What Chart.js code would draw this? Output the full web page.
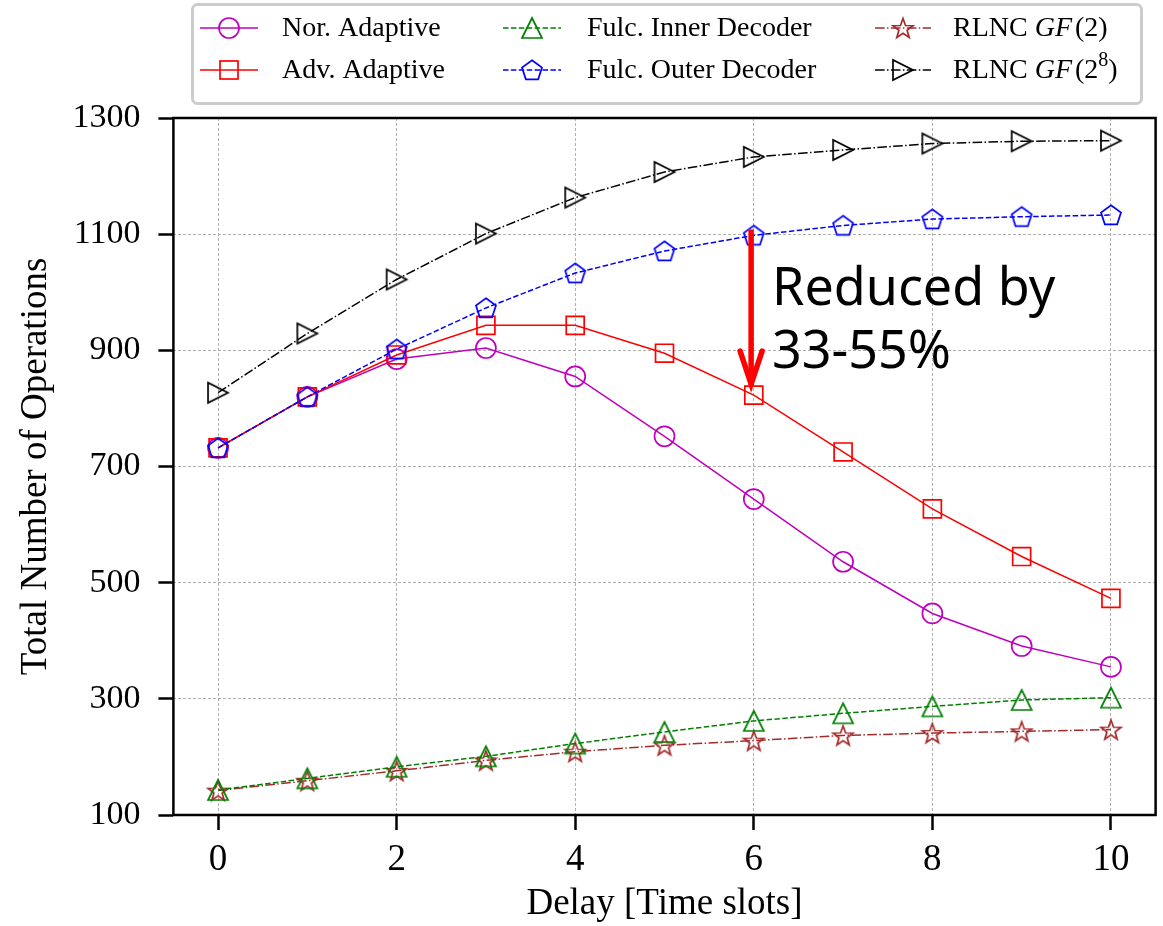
<!DOCTYPE html>
<html>
<head>
<meta charset="utf-8">
<script src="https://cdn.jsdelivr.net/npm/chart.js@4/dist/chart.umd.min.js"></script>
<style>
  body { margin: 0; background: #fff; }
  #wrap { width: 1163px; height: 926px; }
</style>
</head>
<body>
<div id="wrap"><canvas id="opsChart" width="1163" height="926"></canvas></div>
<script>
// delay in time slots
const delays = [0, 1, 2, 3, 4, 5, 6, 7, 8, 9, 10];

// total number of operations per scheme
const norAdaptive = [732, 820, 885, 904, 855, 752, 644, 536, 447, 391, 355];
const advAdaptive = [732, 820, 892, 943, 943, 895, 823, 725, 627, 545, 473];
const fulcInner = [143, 163, 183, 201, 223, 243, 262, 275, 287, 298, 302];
const fulcOuter = [732, 820, 902, 973, 1033, 1071, 1098, 1115, 1126, 1130, 1133];
const rlncGF2 = [142, 159, 176, 194, 209, 220, 228, 237, 241, 244, 247];
const rlncGF256 = [827, 929, 1022, 1101, 1163, 1207, 1233, 1245, 1256, 1260, 1261];

const xTicks = [0, 2, 4, 6, 8, 10];
const yTicks = [100, 300, 500, 700, 900, 1100, 1300];

// arrow for the reduction note: x position, from / to values
const arrowX = 5.97;
const arrowFrom = 1108;
const arrowTo = 835;

const SERIF = '"Liberation Serif", "Times New Roman", serif';

// hollow marker images (matplotlib-like shapes)
function markerCanvas(color, drawPath) {
  const c = document.createElement('canvas');
  c.width = 26; c.height = 26;
  const g = c.getContext('2d');
  g.strokeStyle = color;
  g.lineWidth = 1.7;
  g.lineJoin = 'miter';
  g.beginPath();
  drawPath(g, 13, 13);
  g.closePath();
  g.stroke();
  return c;
}

function polyPath(pts) {
  return (g, cx, cy) => {
    pts.forEach((p, i) => {
      if (i === 0) g.moveTo(cx + p[0], cy + p[1]);
      else g.lineTo(cx + p[0], cy + p[1]);
    });
  };
}

const triUp = markerCanvas('#008000', polyPath([[0, -10], [10, 10], [-10, 10]]));
const triRight = markerCanvas('#000000', polyPath([[10, 0], [-10, 10], [-10, -10]]));

const pentPts = [];
for (let k = 0; k < 5; k++) {
  const a = -Math.PI / 2 + k * 2 * Math.PI / 5;
  pentPts.push([10.5 * Math.cos(a), 10.5 * Math.sin(a) + 0.8]);
}
const pentagon = markerCanvas('#0000ff', polyPath(pentPts));

const starPts = [];
for (let k = 0; k < 10; k++) {
  const a = -Math.PI / 2 + k * Math.PI / 5;
  const r = k % 2 === 0 ? 10.5 : 4.3;
  starPts.push([r * Math.cos(a), r * Math.sin(a) + 1]);
}
const star = markerCanvas('#a52a2a', polyPath(starPts));

function series(vals) {
  return delays.map((d, i) => ({ x: d, y: vals[i] }));
}

const entries = [
  { label: 'Nor. Adaptive', data: norAdaptive, color: '#bf00bf', dash: [], marker: 'circle', order: 3 },
  { label: 'Adv. Adaptive', data: advAdaptive, color: '#ff0000', dash: [], marker: 'rect', order: 2 },
  { label: 'Fulc. Inner Decoder', data: fulcInner, color: '#008000', dash: [5.5, 2.4], marker: triUp, order: 4 },
  { label: 'Fulc. Outer Decoder', data: fulcOuter, color: '#0000ff', dash: [5.5, 2.4], marker: pentagon, order: 1 },
  { label: 'RLNC GF(2)', data: rlncGF2, color: '#a52a2a', dash: [9.6, 2.4, 1.5, 2.4], marker: star, order: 5 },
  { label: 'RLNC GF(2^8)', data: rlncGF256, color: '#000000', dash: [9.6, 2.4, 1.5, 2.4], marker: triRight, order: 6 }
];

const datasets = entries.map(e => ({
  label: e.label,
  data: series(e.data),
  borderColor: e.color,
  borderWidth: 1.5,
  borderDash: e.dash,
  tension: 0,
  fill: false,
  order: e.order,
  pointStyle: e.marker,
  pointRadius: e.marker === 'rect' ? 12.7 : 10,
  pointHoverRadius: e.marker === 'rect' ? 12.7 : 10,
  pointBorderColor: e.color,
  pointBackgroundColor: 'rgba(0,0,0,0)',
  pointBorderWidth: 1.7
}));

// legend drawn in the top margin: 3 columns x 2 rows
const legendPlugin = {
  id: 'boxLegend',
  afterDraw(chart) {
    const ctx = chart.ctx;
    ctx.save();
    ctx.strokeStyle = '#cccccc';
    ctx.lineWidth = 3;
    ctx.fillStyle = '#ffffff';
    ctx.beginPath();
    ctx.roundRect(192.5, 4.5, 949, 99, 5);
    ctx.fill();
    ctx.stroke();

    const cols = [[200, 258, 282], [503, 561, 587], [875, 931, 953]];
    const rows = [28, 70];
    const layout = [[0, 0, 0], [1, 0, 1], [2, 1, 0], [3, 1, 1], [4, 2, 0], [5, 2, 1]];

    layout.forEach(([idx, c, r]) => {
      const e = entries[idx];
      const [x1, x2, tx] = cols[c];
      const y = rows[r];
      const mx = (x1 + x2) / 2;
      ctx.strokeStyle = e.color;
      ctx.lineWidth = 1.5;
      ctx.setLineDash(e.dash);
      ctx.beginPath();
      ctx.moveTo(x1, y);
      ctx.lineTo(x2, y);
      ctx.stroke();
      ctx.setLineDash([]);
      ctx.lineWidth = 1.7;
      if (e.marker === 'circle') {
        ctx.beginPath();
        ctx.arc(mx, y, 10, 0, Math.PI * 2);
        ctx.stroke();
      } else if (e.marker === 'rect') {
        ctx.strokeRect(mx - 9, y - 9, 18, 18);
      } else {
        ctx.drawImage(e.marker, mx - 13, y - 13);
      }

      ctx.fillStyle = '#000';
      ctx.textBaseline = 'middle';
      ctx.textAlign = 'left';
      const normal = '28px ' + SERIF;
      const italic = 'italic 28px ' + SERIF;
      if (idx < 4) {
        ctx.font = normal;
        ctx.fillText(e.label, tx, y + 1);
      } else {
        let x = tx;
        ctx.font = normal;
        ctx.fillText('RLNC ', x, y + 1);
        x += ctx.measureText('RLNC ').width;
        ctx.font = italic;
        ctx.fillText('GF', x, y + 1);
        x += ctx.measureText('GF').width + 3;
        ctx.font = normal;
        if (idx === 4) {
          ctx.fillText('(2)', x, y + 1);
        } else {
          ctx.fillText('(2', x, y + 1);
          x += ctx.measureText('(2').width;
          ctx.font = '20px ' + SERIF;
          ctx.fillText('8', x, y - 9);
          x += ctx.measureText('8').width;
          ctx.font = normal;
          ctx.fillText(')', x, y + 1);
        }
      }
    });
    ctx.restore();
  }
};

// axes frame plus the reduction arrow and note
const annotatePlugin = {
  id: 'frameAndNote',
  afterDatasetsDraw(chart) {
    const { ctx, chartArea: a, scales } = chart;
    ctx.save();
    ctx.strokeStyle = '#000';
    ctx.lineWidth = 2.5;
    ctx.strokeRect(a.left, a.top, a.right - a.left, a.bottom - a.top);

    const x = scales.x.getPixelForValue(arrowX);
    const y1 = scales.y.getPixelForValue(arrowFrom);
    const y2 = scales.y.getPixelForValue(arrowTo);
    ctx.strokeStyle = '#ff0000';
    ctx.lineWidth = 5.5;
    ctx.lineCap = 'butt';
    ctx.beginPath();
    ctx.moveTo(x, y1);
    ctx.lineTo(x, y2 - 3);
    ctx.stroke();
    ctx.lineJoin = 'miter';
    ctx.lineCap = 'round';
    ctx.beginPath();
    ctx.moveTo(x - 11, y2 - 37);
    ctx.lineTo(x, y2 - 4);
    ctx.lineTo(x + 11, y2 - 37);
    ctx.stroke();

    ctx.fillStyle = '#000';
    ctx.font = '52px "Noto Sans", sans-serif';
    ctx.textAlign = 'left';
    ctx.textBaseline = 'alphabetic';
    ctx.fillText('Reduced by', x + 21, scales.y.getPixelForValue(978));
    ctx.fillText('33-55%', x + 21, scales.y.getPixelForValue(870));
    ctx.restore();
  }
};

const gridStyle = {
  color: '#b0b0b0',
  lineWidth: 1,
  tickLength: 15,
  tickColor: '#000',
  tickWidth: 2.5,
  tickBorderDash: []
};
const borderStyle = { display: false, dash: [3, 2] };

new Chart(document.getElementById('opsChart').getContext('2d'), {
  type: 'line',
  data: { datasets: datasets },
  plugins: [annotatePlugin, legendPlugin],
  options: {
    responsive: false,
    animation: false,
    devicePixelRatio: 1,
    layout: { autoPadding: false, padding: { left: 0, top: 118, right: 7.4, bottom: 0 } },
    plugins: { legend: { display: false }, tooltip: { enabled: false } },
    scales: {
      x: {
        type: 'linear',
        min: -0.5,
        max: 10.5,
        afterBuildTicks: s => { s.ticks = xTicks.map(v => ({ value: v })); },
        afterFit: s => { s.height = 111; },
        grid: gridStyle,
        border: borderStyle,
        ticks: {
          color: '#000',
          padding: 8,
          maxRotation: 0,
          font: { family: SERIF, size: 37 },
          callback: v => String(v)
        },
        title: {
          display: true,
          text: 'Delay [Time slots]',
          color: '#000',
          font: { family: SERIF, size: 37 },
          padding: { top: 0, bottom: 0 }
        }
      },
      y: {
        type: 'linear',
        min: 100,
        max: 1300,
        afterBuildTicks: s => { s.ticks = yTicks.map(v => ({ value: v })); },
        afterFit: s => { s.width = 173.4; },
        grid: gridStyle,
        border: borderStyle,
        ticks: {
          color: '#000',
          padding: 18,
          font: { family: SERIF, size: 34 },
          callback: v => String(v)
        },
        title: {
          display: true,
          text: 'Total Number of Operations',
          color: '#000',
          font: { family: SERIF, size: 37 },
          padding: { top: 14, bottom: 0 }
        }
      }
    }
  }
});
</script>
</body>
</html>
